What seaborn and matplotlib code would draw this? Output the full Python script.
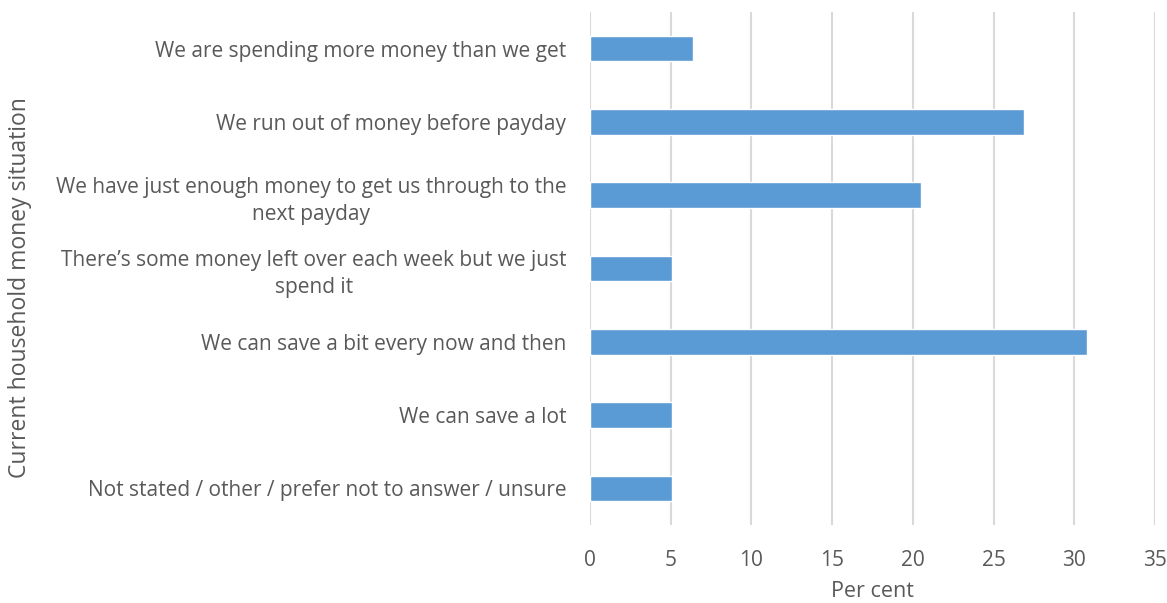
import matplotlib
matplotlib.use("Agg")
import matplotlib.pyplot as plt
import seaborn as sns
import pandas as pd

# categories (top to bottom) and per cent values
situations = [
    "We are spending more money than we get",
    "We run out of money before payday",
    "We have just enough money to get us through to the\nnext payday",
    "There\u2019s some money left over each week but we just\nspend it",
    "We can save a bit every now and then",
    "We can save a lot",
    "Not stated / other / prefer not to answer / unsure",
]
per_cent = [6.4, 26.9, 20.5, 5.1, 30.8, 5.1, 5.1]
x_ticks = [0, 5, 10, 15, 20, 25, 30, 35]

df = pd.DataFrame({"situation": situations, "per_cent": per_cent})

sns.set_theme(style="white")
plt.rcParams["font.family"] = ["Open Sans", "DejaVu Sans"]
text_col = "#595959"

fig = plt.figure(figsize=(11.67, 6.03), dpi=100)
ax = fig.add_axes([590 / 1167, 1 - 525 / 603, (1155 - 590) / 1167, (525 - 12) / 603])

sns.barplot(data=df, x="per_cent", y="situation", color="#5B9BD5",
            width=0.35, saturation=1, ax=ax)

ax.set_xlim(0, 35)
ax.set_xticks(x_ticks)
ax.grid(axis="x", color="#D9D9D9", linewidth=1.5)
ax.set_axisbelow(True)
for s in ax.spines.values():
    s.set_visible(False)

ax.tick_params(axis="x", length=0, pad=18, labelsize=15, labelcolor=text_col)
ax.tick_params(axis="y", length=0, pad=17, labelsize=15, labelcolor=text_col)
for lbl in ax.get_yticklabels():
    lbl.set_multialignment("center")
    lbl.set_linespacing(1.4)

ax.set_xlabel("Per cent", fontsize=15.5, color=text_col, labelpad=7)
ax.set_ylabel("")
fig.text(20 / 1167, 1 - 288 / 603, "Current household money situation",
         rotation=90, ha="center", va="center", fontsize=16.5, color=text_col)

fig.savefig("out.png", dpi=100)
